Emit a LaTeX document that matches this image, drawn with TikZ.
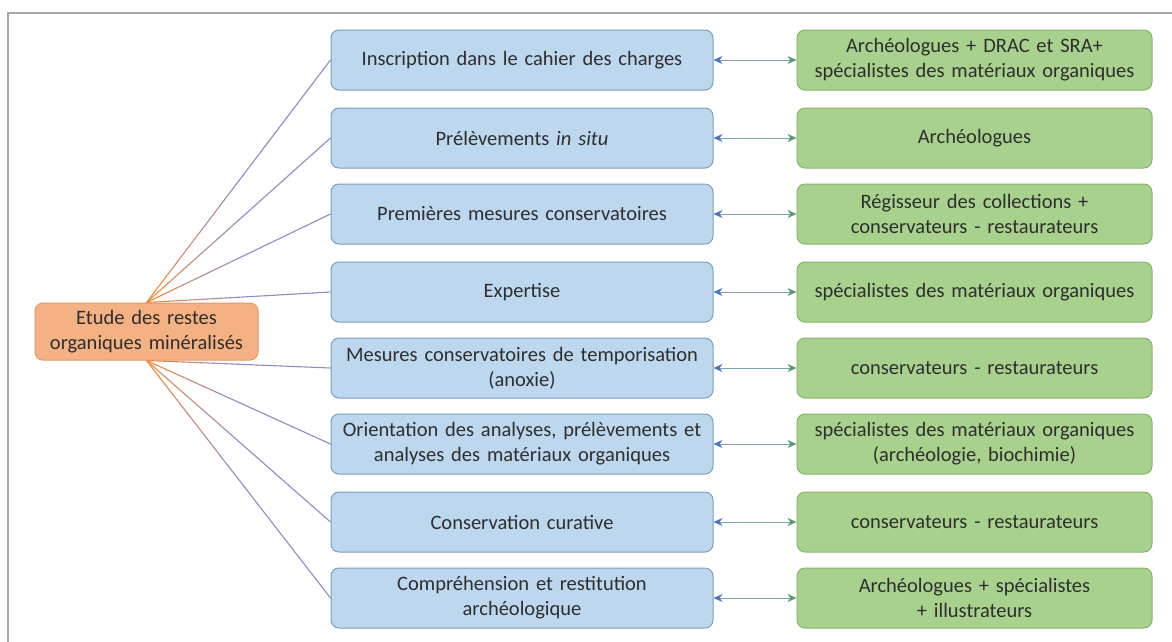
\documentclass[tikz,border=0pt]{standalone}
\usepackage{fontspec}
\setmainfont{Carlito}[WordSpace=0.5]
\usetikzlibrary{arrows.meta,calc}
\definecolor{txt}{HTML}{2E2E2E}
\definecolor{bfill}{HTML}{BDD7EE}
\definecolor{bdraw}{HTML}{7E9CC0}
\definecolor{gfill}{HTML}{A9D18E}
\definecolor{gdraw}{HTML}{86B46A}
\definecolor{ofill}{HTML}{F4B183}
\definecolor{odraw}{HTML}{E39A63}
\definecolor{lineO}{HTML}{F08A40}
\definecolor{lineB}{HTML}{8C8CC8}
\definecolor{framec}{HTML}{A6A6A6}
\definecolor{arrL}{HTML}{7FA0B0}
\definecolor{tipB}{HTML}{4A78C0}
\definecolor{tipG}{HTML}{5A9A6A}
\begin{document}
\begin{tikzpicture}[x=1pt,y=-1pt,
 box/.style={rounded corners=8pt, line width=1pt, minimum height=60pt, align=center, text=txt, font=\fontsize{20.5}{25}\selectfont, inner sep=0pt},
 task/.style={box, fill=bfill, draw=bdraw, minimum width=382pt, text width=375pt},
 actor/.style={box, fill=gfill, draw=gdraw, minimum width=355pt, text width=350pt},
 root/.style={box, fill=ofill, draw=odraw, minimum width=223pt, minimum height=57pt, text width=220pt},
 link/.style={draw=arrL, line width=1pt, {Stealth[color=tipB,length=9pt,width=8pt]}-{Stealth[color=tipG,length=9pt,width=8pt]}},
]
\useasboundingbox (0,0) rectangle (1172,641);
\clip (0,0) rectangle (1172,641);
\fill[white] (0,0) rectangle (1172,641);
\draw[framec, line width=2pt] (8,660) -- (8,13) -- (1190,13);

\node[root] (r) at (146.5,331.5) {Etude des restes\\organiques minéralisés};

\node[task] (t1) at (522,60) {Inscription dans le cahier des charges};
\node[task] (t2) at (522,138) {Prélèvements \textit{in situ}};
\node[task] (t3) at (522,214) {Premières mesures conservatoires};
\node[task] (t4) at (522,292) {Expertise};
\node[task] (t5) at (522,368) {Mesures conservatoires de temporisation\\(anoxie)};
\node[task] (t6) at (522,444) {Orientation des analyses, prélèvements et\\analyses des matériaux organiques};
\node[task] (t7) at (522,522) {Conservation curative};
\node[task] (t8) at (522,598) {Compréhension et restitution\\archéologique};

\node[actor] (a1) at (974.5,60) {Archéologues + DRAC et SRA+\\spécialistes des matériaux organiques};
\node[actor] (a2) at (974.5,138) {Archéologues};
\node[actor] (a3) at (974.5,214) {Régisseur des collections +\\conservateurs - restaurateurs};
\node[actor] (a4) at (974.5,292) {spécialistes des matériaux organiques};
\node[actor] (a5) at (974.5,368) {conservateurs - restaurateurs};
\node[actor] (a6) at (974.5,444) {spécialistes des matériaux organiques\\(archéologie, biochimie)};
\node[actor] (a7) at (974.5,522) {conservateurs - restaurateurs};
\node[actor] (a8) at (974.5,598) {Archéologues + spécialistes\\+ illustrateurs};

\foreach \k in {1,...,8}{\draw[link] (t\k.east) -- (a\k.west);}

\foreach \t/\s in {t1/north,t2/north,t3/north,t4/north,t5/south,t6/south,t7/south,t8/south}{
  \foreach \i in {0,...,9}{
    \pgfmathsetmacro\fa{\i/10}
    \pgfmathsetmacro\fb{(\i+1)/10}
    \pgfmathtruncatemacro\p{max(0,100-\i*22)}
    \draw[draw=lineO!\p!lineB, line width=1.1pt, line cap=round] ($(r.\s)!\fa!(\t.west)$) -- ($(r.\s)!\fb!(\t.west)$);
  }
}
\end{tikzpicture}
\end{document}
